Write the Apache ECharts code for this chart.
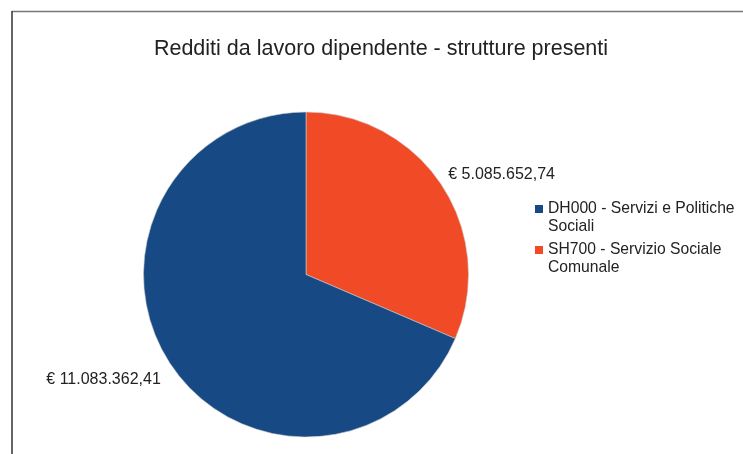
<!DOCTYPE html>
<html>
<head>
<meta charset="utf-8">
<script src="https://cdn.jsdelivr.net/npm/echarts@6/dist/echarts.min.js"></script>
<style>html,body{margin:0;padding:0;background:#fff;}#c{width:743px;height:454px;}</style>
</head>
<body>
<div id="c"></div>
<script>
const title = 'Redditi da lavoro dipendente - strutture presenti';
const categories = ['SH700 - Servizio Sociale Comunale', 'DH000 - Servizi e Politiche Sociali'];
const legendLabels = {
  'DH000 - Servizi e Politiche Sociali': 'DH000 - Servizi e Politiche\nSociali',
  'SH700 - Servizio Sociale Comunale': 'SH700 - Servizio Sociale\nComunale'
};
const legendOrder = ['DH000 - Servizi e Politiche Sociali', 'SH700 - Servizio Sociale Comunale'];
const values = [5085652.74, 11083362.41];
const valueLabels = ['€ 5.085.652,74', '€ 11.083.362,41'];
const colors = ['#f04a26', '#174a84'];

const chart = echarts.init(document.getElementById('c'), null, {renderer: 'canvas'});
const font = 'Liberation Sans, Arial, sans-serif';
chart.setOption({
  animation: false,
  backgroundColor: '#ffffff',
  title: {
    text: title,
    left: 376, top: 33, textAlign: 'center',
    textStyle: {fontFamily: font, fontSize: 21.5, fontWeight: 'normal', color: '#222'}
  },
  legend: {
    orient: 'vertical',
    left: 530, top: 195,
    icon: 'path://M0,0M0,5h8v8h-8zM8,36',
    itemWidth: 8, itemHeight: 36, itemGap: 5,
    itemStyle: {borderWidth: 0},
    data: legendOrder,
    formatter: n => legendLabels[n],
    textStyle: {fontFamily: font, fontSize: 15.7, color: '#222', lineHeight: 18}
  },
  graphic: [
    {type: 'line', shape: {x1: 12, y1: 11.5, x2: 743, y2: 11.5}, style: {stroke: '#777', lineWidth: 1.5}},
    {type: 'line', shape: {x1: 12, y1: 11, x2: 12, y2: 454}, style: {stroke: '#333', lineWidth: 1.5}}
  ],
  series: [{
    type: 'pie',
    center: [306, 274.5],
    radius: 162.5,
    startAngle: 90,
    clockwise: true,
    itemStyle: {borderColor: '#cfcfcf', borderWidth: 0.6},
    label: {
      show: true, position: 'outside',
      formatter: p => valueLabels[p.dataIndex],
      fontFamily: font, fontSize: 16, color: '#222'
    },
    labelLine: {show: false, length: 15, length2: 0},
    labelLayout: p => p.dataIndex === 0 ? {dx: -11, dy: -2} : {dx: 8, dy: 7},
    emphasis: {disabled: true},
    data: categories.map((c, i) => ({name: c, value: values[i], itemStyle: {color: colors[i]}}))
  }]
});
</script>
</body>
</html>
